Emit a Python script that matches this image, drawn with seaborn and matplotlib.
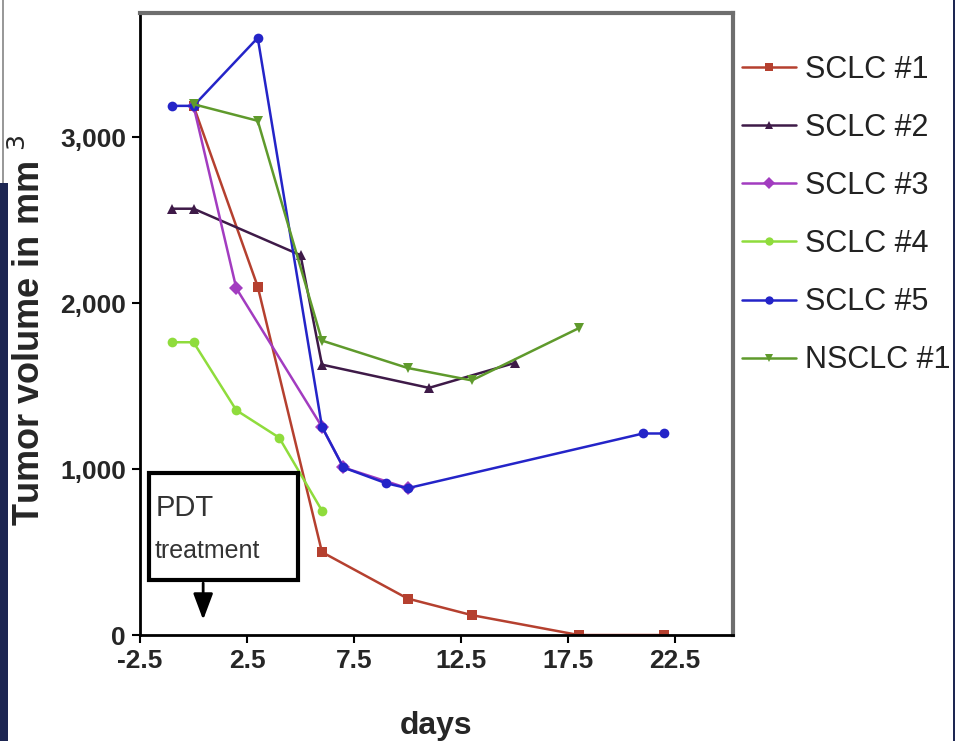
import pandas as pd
import numpy as np
import matplotlib.pyplot as plt
import seaborn as sns
from matplotlib.patches import Rectangle

# series (days, tumor volume in mm^3)
sclc1_days = [0, 3, 6, 10, 13, 18, 22]
sclc1_vol = [3190, 2100, 500, 220, 120, 0, 0]
sclc2_days = [-1, 0, 5, 6, 11, 15]
sclc2_vol = [2570, 2570, 2290, 1630, 1490, 1640]
sclc3_days = [0, 2, 6, 7, 10]
sclc3_vol = [3190, 2090, 1255, 1010, 885]
sclc4_days = [-1, 0, 2, 4, 6]
sclc4_vol = [1765, 1765, 1355, 1190, 750]
sclc5_days = [-1, 0, 3, 6, 7, 9, 10, 21, 22]
sclc5_vol = [3190, 3190, 3600, 1255, 1010, 915, 885, 1215, 1215]
nsclc1_days = [0, 3, 6, 10, 13, 18]
nsclc1_vol = [3200, 3100, 1775, 1610, 1535, 1850]

names = ["SCLC #1", "SCLC #2", "SCLC #3", "SCLC #4", "SCLC #5", "NSCLC #1"]
colors = ["#b5402f", "#3e1a48", "#a23cc0", "#8fdc3c", "#2424c8", "#5f9a2c"]
markers = ["s", "^", "D", "o", "o", "v"]
xticks = [-2.5, 2.5, 7.5, 12.5, 17.5, 22.5]
yticks = [0, 1000, 2000, 3000]
ytick_labels = ["0", "1,000", "2,000", "3,000"]

days_all = [sclc1_days, sclc2_days, sclc3_days, sclc4_days, sclc5_days, nsclc1_days]
vol_all = [sclc1_vol, sclc2_vol, sclc3_vol, sclc4_vol, sclc5_vol, nsclc1_vol]
df = pd.concat([pd.DataFrame({"days": d, "vol": v, "series": n})
                for d, v, n in zip(days_all, vol_all, names)], ignore_index=True)

sns.set_style("white")
plt.rcParams['font.family'] = ['Liberation Sans', 'DejaVu Sans']

fig = plt.figure(figsize=(9.55, 7.41), dpi=100)
ax = fig.add_axes([0.1466, 0.143, 0.6209, 0.8395])

sns.lineplot(data=df, x="days", y="vol", hue="series", style="series",
             hue_order=names, style_order=names,
             palette=dict(zip(names, colors)), markers=dict(zip(names, markers)),
             dashes=False, sort=False, estimator=None, lw=1.8, markersize=7,
             markeredgewidth=0, ax=ax)

# blue on top at the shared starting point
for line in ax.lines:
    if line.get_label() == "SCLC #5":
        line.set_zorder(3)

ax.set_xlim(-2.5, 25.2)
ax.set_ylim(0, 3750)
ax.set_xticks(xticks)
ax.set_xticklabels([str(t) for t in xticks], fontsize=19, fontweight='bold')
ax.set_yticks(yticks)
ax.set_yticklabels(ytick_labels, fontsize=19, fontweight='bold')
ax.tick_params(axis='both', direction='out', length=6, width=1.5, color='black',
               bottom=True, left=True, pad=4)
ax.set_xlabel("days", fontsize=23, fontweight='bold')
ax.set_ylabel("Tumor volume in mm $^{3}$", fontsize=26, fontweight='bold')
ax.yaxis.set_label_coords(-0.155, 0.49)
ax.xaxis.set_label_coords(0.5, -0.122)

for side in ["left", "bottom"]:
    ax.spines[side].set_color("black")
    ax.spines[side].set_linewidth(2)
for side in ["top", "right"]:
    ax.spines[side].set_color("#6e6e6e")
    ax.spines[side].set_linewidth(3)

# PDT treatment box and arrow
ax.add_patch(Rectangle((-2.1, 330), 7.0, 645, facecolor="white", edgecolor="black",
                       lw=3, zorder=5))
ax.text(-1.75, 765, "PDT", fontsize=21, va='center', ha='left', color='#333333', zorder=6)
ax.text(-1.8, 505, "treatment", fontsize=18, va='center', ha='left', color='#333333', zorder=6)
ax.annotate("", xy=(0.45, 75), xytext=(0.45, 330),
            arrowprops=dict(arrowstyle="-|>,head_width=0.6,head_length=1.6",
                            color="black", lw=2), zorder=6)

# legend on the right
handles, labels = ax.get_legend_handles_labels()
ax.get_legend().remove() if ax.get_legend() else None
for h in handles:
    h.set_markersize(6)
leg = fig.legend(handles, labels, loc="upper left", bbox_to_anchor=(0.777, 0.926),
                 frameon=False, fontsize=22, handlelength=1.75, handletextpad=0.3,
                 labelspacing=0.92, borderpad=0, borderaxespad=0)
for t in leg.get_texts():
    t.set_color("#222222")

# slide background strips
fig.patches.append(Rectangle((0, 0), 8 / 955, (741 - 183) / 741, transform=fig.transFigure,
                             facecolor="#1d2652", edgecolor="none", zorder=-1))
fig.patches.append(Rectangle((953 / 955, 0), 2 / 955, 1, transform=fig.transFigure,
                             facecolor="#1d2652", edgecolor="none", zorder=-1))
fig.patches.append(Rectangle((2 / 955, (741 - 183) / 741), 2 / 955, 183 / 741,
                             transform=fig.transFigure, facecolor="#999999",
                             edgecolor="none", zorder=-1))

fig.savefig("out.png", dpi=100)
